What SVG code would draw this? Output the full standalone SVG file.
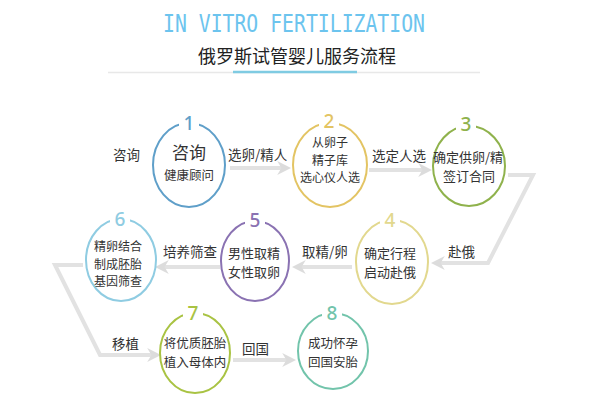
<svg xmlns="http://www.w3.org/2000/svg" width="600" height="400" viewBox="0 0 600 400">
<defs>
<marker id="ah" viewBox="0 0 10 10" refX="7" refY="5" markerWidth="14" markerHeight="14" markerUnits="userSpaceOnUse" orient="auto">
<path d="M0,0 L10,5 L0,10 L3,5 z" fill="#dcdcdc"/>
</marker>
<style>
.t{font-family:"Noto Sans CJK SC","Noto Sans",sans-serif;fill:#333;text-anchor:middle}
.l{font-family:"Noto Sans CJK SC","Noto Sans",sans-serif;fill:#333;font-size:13.5px}
.num{font-family:"Noto Sans","DejaVu Sans",sans-serif;font-size:19px;font-weight:500;text-anchor:middle}
.ring{fill:none;stroke-width:2}
.gap{fill:#fff}
.conn{fill:none;stroke:#e2e2e2;stroke-width:4;stroke-linejoin:miter;marker-end:url(#ah)}
</style>
</defs>
<rect width="600" height="400" fill="#fff"/>
<g id="title">
<text x="163" y="32" font-family="DejaVu Sans Mono,Liberation Mono,monospace" font-size="24" fill="#6cc4ee" textLength="262" lengthAdjust="spacingAndGlyphs">IN VITRO FERTILIZATION</text>
<text x="297" y="63" font-family="Noto Sans CJK SC,sans-serif" font-size="18" fill="#222" text-anchor="middle">俄罗斯试管婴儿服务流程</text>
<line x1="108" y1="72.5" x2="480" y2="72.5" stroke="#e8e8e8" stroke-width="1.5"/>
<line x1="233" y1="72" x2="357" y2="72" stroke="#7fcbe2" stroke-width="2.5"/>
</g>
<g id="connectors">
<line class="conn" x1="230" y1="168" x2="287" y2="168"/>
<line class="conn" x1="369" y1="170" x2="428" y2="170"/>
<polyline class="conn" points="508,175 533,175 488,263 435,263"/>
<line class="conn" x1="352" y1="267" x2="296" y2="267"/>
<line class="conn" x1="220" y1="267" x2="159" y2="267"/>
<polyline class="conn" points="83,265 55,265 100,355 157,355"/>
<line class="conn" x1="233" y1="360" x2="292" y2="360"/>
<text class="l" x="113" y="160">咨询</text>
<text class="l" x="228" y="160">选卵/精人</text>
<text class="l" x="372" y="161">选定人选</text>
<text class="l" x="448" y="257">赴俄</text>
<text class="l" x="302" y="257">取精/卵</text>
<text class="l" x="163" y="257">培养筛查</text>
<text class="l" x="112" y="349">移植</text>
<text class="l" x="242" y="354">回国</text>
</g>
<g id="node1">
<ellipse class="ring" cx="189" cy="165" rx="36" ry="42" stroke="#5f9fc9"/>
<rect class="gap" x="179" y="115" width="20" height="16"/>
<text class="num" x="189" y="130" fill="#5f9fc9">1</text>
<text class="t" x="189" y="159" font-size="17">咨询<tspan x="189" y="180" font-size="12.5">健康顾问</tspan></text>
</g>
<g id="node2">
<ellipse class="ring" cx="330" cy="165" rx="37" ry="42" stroke="#e3c463"/>
<rect class="gap" x="319" y="113" width="20" height="16"/>
<text class="num" x="329" y="128" fill="#e3c463">2</text>
<text class="t" x="330" y="147" font-size="12">从卵子<tspan x="330" y="164.5">精子库</tspan><tspan x="330" y="182">选心仪人选</tspan></text>
</g>
<g id="node3">
<ellipse class="ring" cx="469" cy="166" rx="36" ry="40" stroke="#8fb24c"/>
<rect class="gap" x="456" y="116" width="20" height="16"/>
<text class="num" x="466" y="131" fill="#8fb24c">3</text>
<text class="t" x="468" y="162" font-size="13">确定供卵/精<tspan x="469" y="181">签订合同</tspan></text>
</g>
<g id="node4">
<ellipse class="ring" cx="392" cy="262" rx="36" ry="42" stroke="#e2d88e"/>
<rect class="gap" x="380" y="212" width="20" height="16"/>
<text class="num" x="390" y="227" fill="#e2d88e">4</text>
<text class="t" x="390" y="258" font-size="13">确定行程<tspan x="390" y="277">启动赴俄</tspan></text>
</g>
<g id="node5">
<ellipse class="ring" cx="255" cy="261" rx="34" ry="40" stroke="#8a72b2"/>
<rect class="gap" x="245" y="212" width="20" height="16"/>
<text class="num" x="255" y="227" fill="#8a72b2">5</text>
<text class="t" x="254" y="258" font-size="13">男性取精<tspan x="254" y="277">女性取卵</tspan></text>
</g>
<g id="node6">
<ellipse class="ring" cx="121" cy="260" rx="35" ry="41" stroke="#8fcce2"/>
<rect class="gap" x="110" y="211" width="20" height="16"/>
<text class="num" x="120" y="226" fill="#8fcce2">6</text>
<text class="t" x="118" y="251" font-size="12">精卵结合<tspan x="118" y="268.5">制成胚胎</tspan><tspan x="118" y="286">基因筛查</tspan></text>
</g>
<g id="node7">
<ellipse class="ring" cx="195" cy="353" rx="35" ry="40" stroke="#a9c343"/>
<rect class="gap" x="183" y="305" width="20" height="16"/>
<text class="num" x="193" y="320" fill="#a9c343">7</text>
<text class="t" x="195" y="348" font-size="12.5">将优质胚胎<tspan x="195" y="366.5">植入母体内</tspan></text>
</g>
<g id="node8">
<ellipse class="ring" cx="333" cy="351" rx="35" ry="38" stroke="#72c4ab"/>
<rect class="gap" x="322" y="305" width="20" height="16"/>
<text class="num" x="332" y="320" fill="#72c4ab">8</text>
<text class="t" x="333" y="348" font-size="12.5">成功怀孕<tspan x="333" y="366.5">回国安胎</tspan></text>
</g>
</svg>
